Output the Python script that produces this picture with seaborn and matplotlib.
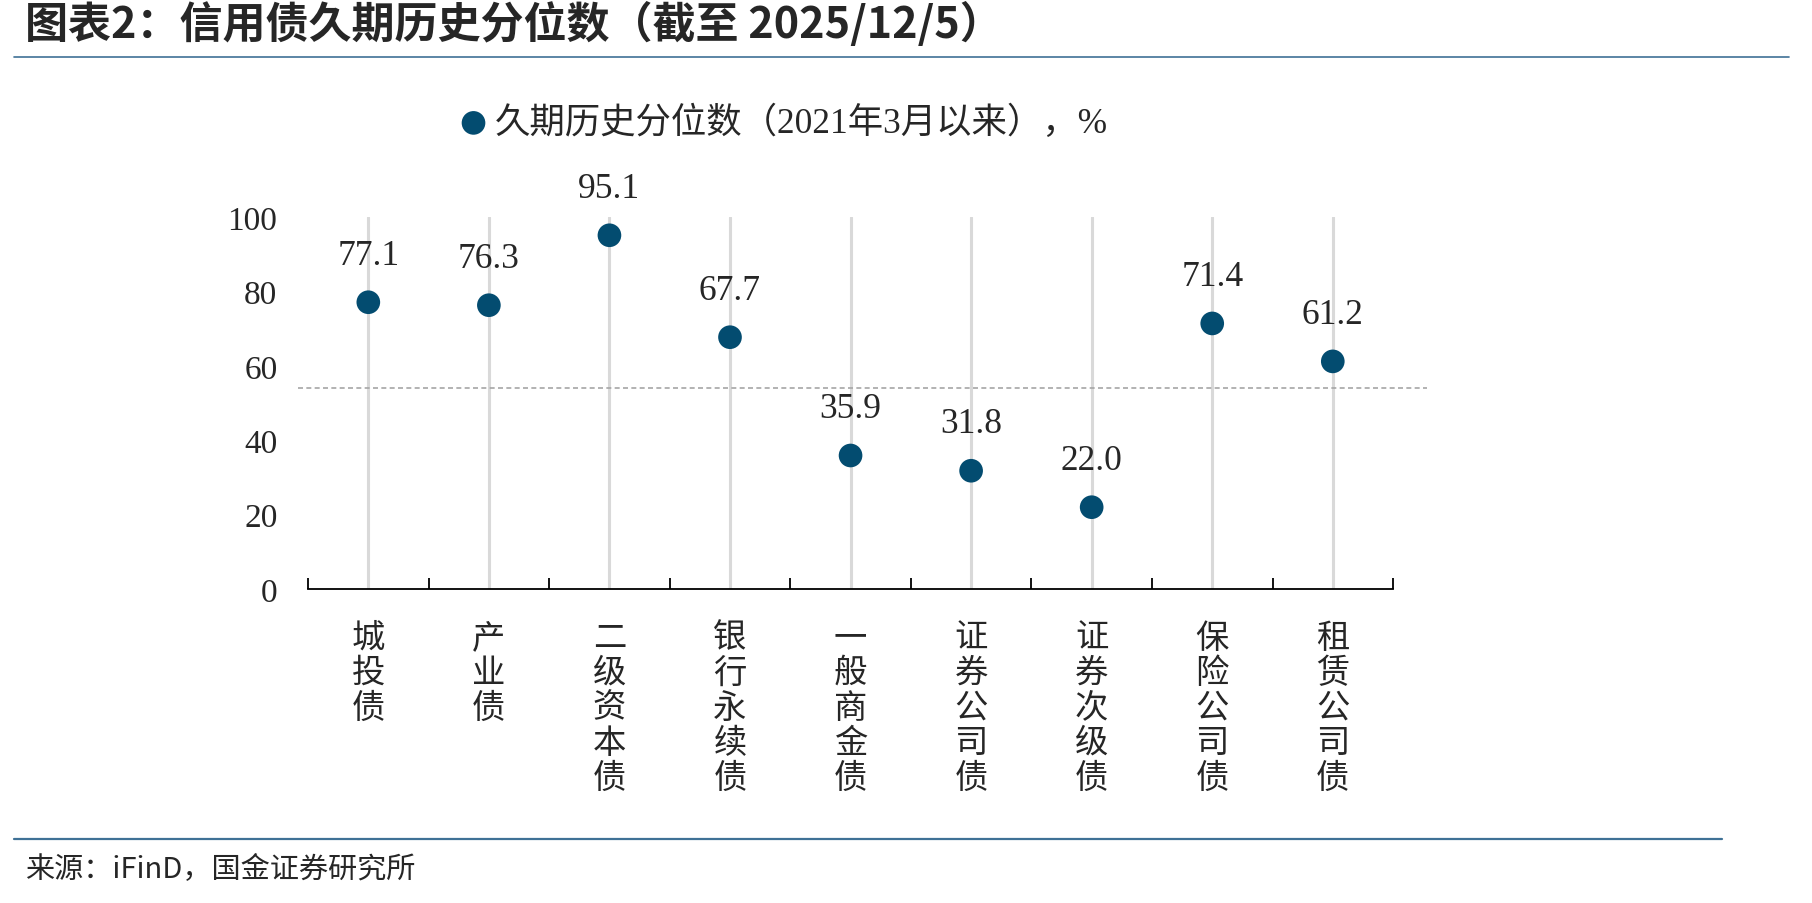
import numpy as np
import pandas as pd
import seaborn as sns
import matplotlib.pyplot as plt
from matplotlib import ticker

sns.set_theme(style="white")
plt.rcParams['font.family'] = ['Liberation Serif', 'Noto Sans CJK SC']
plt.rcParams['axes.unicode_minus'] = False

# 数据
categories = ['城投债', '产业债', '二级资本债', '银行永续债', '一般商金债',
              '证券公司债', '证券次级债', '保险公司债', '租赁公司债']
percentiles = [77.1, 76.3, 95.1, 67.7, 35.9, 31.8, 22.0, 71.4, 61.2]
ref_level = 54.0
y_ticks = [0, 20, 40, 60, 80, 100]
series_name = '久期历史分位数（2021年3月以来），%'
title = '图表2：信用债久期历史分位数（截至 2025/12/5）'
source = '来源：iFinD，国金证券研究所'

df = pd.DataFrame({'cat': categories, 'val': percentiles})

dot_color = '#034c70'
line_color = '#3f7196'

fig = plt.figure(figsize=(18.12, 9.04), dpi=100)
ax = fig.add_axes([0.170, 0.3473, 0.5988, 0.4115])

sns.scatterplot(data=df, x='cat', y='val', s=290, color=dot_color,
                edgecolor='none', label=series_name, ax=ax, zorder=3)

ax.set_xlim(-0.5, len(categories) - 0.5)
ax.set_ylim(0, 100)
ax.set_xlabel('')
ax.set_ylabel('')

# 竖向网格线
ax.set_axisbelow(True)
ax.grid(axis='x', color='#d9d9d9', linewidth=2.2)
ax.grid(axis='y', visible=False)

# 参考虚线
ax.axhline(ref_level, xmin=-0.009, xmax=1.031, color='#a6a6a6',
           linestyle=(0, (3, 2)), linewidth=1.2, clip_on=False, zorder=1)

# 坐标轴
for s in ['top', 'right', 'left']:
    ax.spines[s].set_visible(False)
ax.spines['bottom'].set_color('black')
ax.spines['bottom'].set_linewidth(1.3)

ax.set_yticks(y_ticks)
ax.tick_params(axis='y', length=0, pad=22, labelsize=24)

ax.set_xticks(range(len(categories)))
ax.set_xticklabels(['\n'.join(c) for c in categories], fontsize=24,
                   family=['Noto Sans CJK SC'], linespacing=1.0, va='top')
ax.tick_params(axis='x', which='major', length=0, pad=22)
ax.xaxis.set_minor_locator(ticker.FixedLocator(np.arange(-0.5, len(categories), 1)))
ax.tick_params(axis='x', which='minor', direction='in', length=8, width=1.3,
               color='black', bottom=True)

# 数据标签
for i, v in enumerate(percentiles):
    ax.annotate(f'{v:.1f}', (i, v), xytext=(0, 22), textcoords='offset points',
                ha='center', va='bottom', fontsize=25.5, annotation_clip=False)

# 图例
leg = ax.legend(loc='center left', bbox_to_anchor=(496 / 1812 - 0.03, 1 - 124 / 904),
                bbox_transform=fig.transFigure, frameon=False, fontsize=25.5,
                handletextpad=0.1, handlelength=1.0, borderaxespad=0)

# 标题、分隔线、来源
fig.text(25 / 1812, 1 - 24 / 904, title, fontsize=31, fontweight='bold',
         fontstyle='italic', family=['Noto Sans CJK SC'], ha='left', va='center')
fig.add_artist(plt.Line2D([14 / 1812, 1789 / 1812], [1 - 58 / 904] * 2,
                          color=line_color, linewidth=1.2))
fig.add_artist(plt.Line2D([14 / 1812, 1722 / 1812], [1 - 840 / 904] * 2,
                          color=line_color, linewidth=1.6))
fig.text(25 / 1812, 1 - 870 / 904, source, fontsize=21,
         family=['Noto Sans CJK SC'], ha='left', va='center')

fig.savefig('out.png', dpi=100)
